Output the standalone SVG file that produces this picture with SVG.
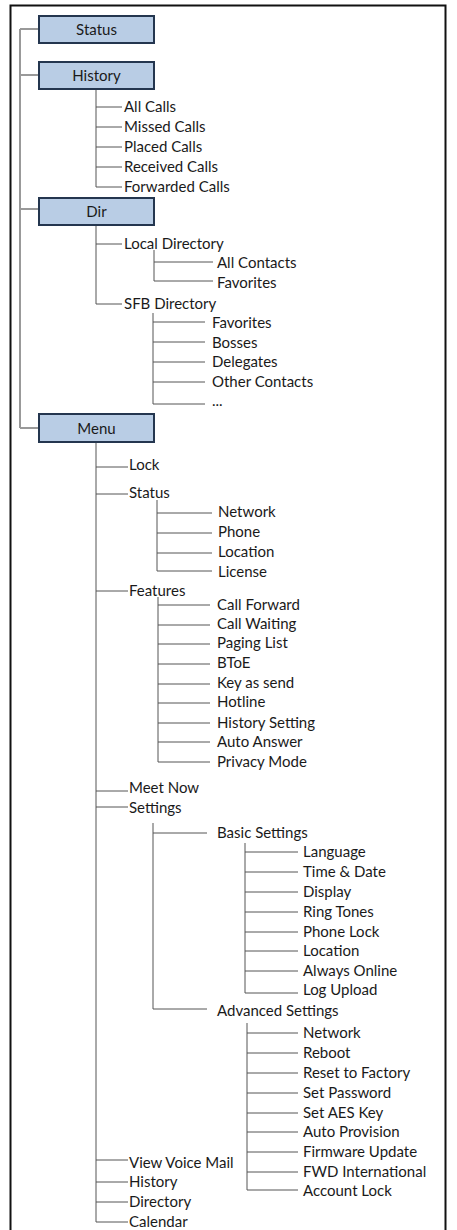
<svg xmlns="http://www.w3.org/2000/svg" width="457" height="1230" viewBox="0 0 457 1230">
<style>
.t{font-family:Lato,"Liberation Sans",sans-serif;font-size:15px;fill:#1a1a1a}
.b{font-family:Lato,"Liberation Sans",sans-serif;font-size:15px;fill:#1a1a1a;text-anchor:middle}
.box{fill:#b9cde5;stroke:#24364f;stroke-width:2}
.l{stroke:#555;stroke-width:1;fill:none}
.m{stroke:#999;stroke-width:2;fill:none}
</style>
<rect x="0" y="0" width="457" height="1230" fill="#fff"/>
<rect x="10.5" y="5.5" width="435" height="1230" fill="none" stroke="#111" stroke-width="2"/>
<g id="connectors">
<path class="m" d="M20,29V428M20,29H39M20,75H39M20,209H39M20,428H39"/>
<path class="l" d="M96,89V187M96,107H122M96,127H122M96,147H122M96,167H122M96,187H122"/>
<path class="l" d="M96,225V304M96,244H122M96,304H122M154,250V281M154,262H213M154,281H213"/>
<path class="l" d="M153,313V404M153,322H205M153,342H205M153,362H205M153,382H205M153,404H205"/>
<path class="l" d="M96,442V1222M96,467H128M96,494H128M96,591H128M96,791H128M96,807H128M96,1160H128M96,1182H128M96,1202H128M96,1222H128"/>
<path class="l" d="M157,500V571M157,513H212M157,533H212M157,553H212M157,571H212"/>
<path class="l" d="M158,597V762M158,605H210M158,625H210M158,644H210M158,664H210M158,684H210M158,703H210M158,723H210M158,742H210M158,762H210"/>
<path class="l" d="M153,823V1009M153,833H207M153,1009H207"/>
<path class="l" d="M245,843V993M245,852H298M245,872H298M245,892H298M245,912H298M245,932H298M245,951H298M245,971H298M245,993H298"/>
<path class="l" d="M247,1023V1190M247,1033H298M247,1053H298M247,1073H298M247,1093H298M247,1113H298M247,1132H298M247,1152H298M247,1172H298M247,1190H298"/>
</g>
<g id="n-status"><rect class="box" x="39" y="16" width="115" height="27"/><text class="b" x="96.5" y="35">Status</text></g>
<g id="n-history"><rect class="box" x="39" y="62" width="115" height="27"/><text class="b" x="96.5" y="81">History</text></g>
<g id="n-dir"><rect class="box" x="39" y="198" width="115" height="27"/><text class="b" x="96.5" y="217">Dir</text></g>
<g id="n-menu"><rect class="box" x="39" y="414" width="115" height="28"/><text class="b" x="96.5" y="433.5">Menu</text></g>
<g id="history-items">
<text class="t" x="124" y="112">All Calls</text>
<text class="t" x="124" y="132">Missed Calls</text>
<text class="t" x="124" y="152">Placed Calls</text>
<text class="t" x="124" y="172">Received Calls</text>
<text class="t" x="124" y="192">Forwarded Calls</text>
</g>
<g id="dir-items">
<text class="t" x="124" y="249">Local Directory</text>
<text class="t" x="217" y="268">All Contacts</text>
<text class="t" x="217" y="288">Favorites</text>
<text class="t" x="124" y="309">SFB Directory</text>
<text class="t" x="212" y="328">Favorites</text>
<text class="t" x="212" y="348">Bosses</text>
<text class="t" x="212" y="367">Delegates</text>
<text class="t" x="212" y="387">Other Contacts</text>
<text class="t" x="212" y="406">...</text>
</g>
<g id="menu-items">
<text class="t" x="129" y="470">Lock</text>
<text class="t" x="129" y="498">Status</text>
<text class="t" x="218" y="517">Network</text>
<text class="t" x="218" y="537">Phone</text>
<text class="t" x="218" y="557">Location</text>
<text class="t" x="218" y="577">License</text>
<text class="t" x="129" y="596">Features</text>
<text class="t" x="217" y="610">Call Forward</text>
<text class="t" x="217" y="629">Call Waiting</text>
<text class="t" x="217" y="648">Paging List</text>
<text class="t" x="217" y="668">BToE</text>
<text class="t" x="217" y="688">Key as send</text>
<text class="t" x="217" y="707">Hotline</text>
<text class="t" x="217" y="728">History Setting</text>
<text class="t" x="217" y="747">Auto Answer</text>
<text class="t" x="217" y="767">Privacy Mode</text>
<text class="t" x="129" y="793">Meet Now</text>
<text class="t" x="129" y="813">Settings</text>
<text class="t" x="217" y="838">Basic Settings</text>
<text class="t" x="303" y="857">Language</text>
<text class="t" x="303" y="877">Time &amp; Date</text>
<text class="t" x="303" y="897">Display</text>
<text class="t" x="303" y="917">Ring Tones</text>
<text class="t" x="303" y="937">Phone Lock</text>
<text class="t" x="303" y="956">Location</text>
<text class="t" x="303" y="976">Always Online</text>
<text class="t" x="303" y="995">Log Upload</text>
<text class="t" x="217" y="1016">Advanced Settings</text>
<text class="t" x="303" y="1038">Network</text>
<text class="t" x="303" y="1058">Reboot</text>
<text class="t" x="303" y="1078">Reset to Factory</text>
<text class="t" x="303" y="1098">Set Password</text>
<text class="t" x="303" y="1118">Set AES Key</text>
<text class="t" x="303" y="1137">Auto Provision</text>
<text class="t" x="303" y="1157">Firmware Update</text>
<text class="t" x="303" y="1177">FWD International</text>
<text class="t" x="303" y="1196">Account Lock</text>
<text class="t" x="129" y="1168">View Voice Mail</text>
<text class="t" x="129" y="1187">History</text>
<text class="t" x="129" y="1207">Directory</text>
<text class="t" x="129" y="1227">Calendar</text>
</g>
</svg>
